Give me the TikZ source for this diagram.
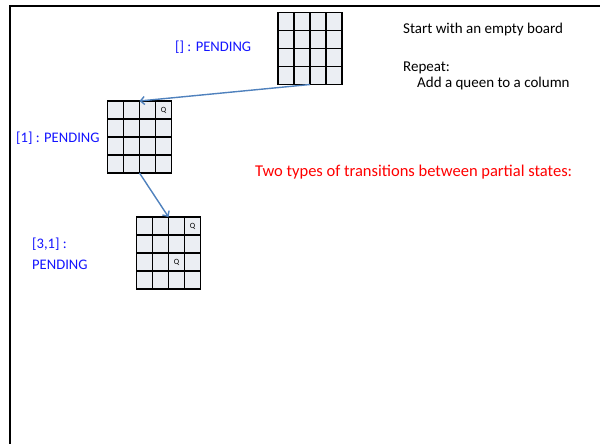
\documentclass[tikz,border=0pt]{standalone}
\usepackage{fontspec}
\setmainfont{Carlito}
\usetikzlibrary{arrows.meta,calc}
\definecolor{cellfill}{RGB}{235,238,243}
\definecolor{arrowblue}{RGB}{79,129,189}
\definecolor{lblblue}{RGB}{20,20,255}
\definecolor{lblred}{RGB}{255,0,0}
\tikzset{
  boardbox/.style={draw=black, line width=1.3pt, fill=cellfill, minimum width=64pt, minimum height=72pt, inner sep=0pt, outer sep=0pt},
  gridline/.style={black, line width=1.3pt},
  queen/.style={font=\fontsize{8}{9}\selectfont, inner sep=0pt},
  bluelbl/.style={text=lblblue, font=\fontsize{14.6}{21}\selectfont, inner sep=0pt, anchor=west, align=left},
  blacklbl/.style={text=black, font=\fontsize{15}{16}\selectfont, inner sep=0pt, anchor=west, align=left},
  redlbl/.style={text=lblred, font=\fontsize{16.5}{18}\selectfont, inner sep=0pt, anchor=west},
  flow/.style={draw=arrowblue, line width=1.4pt, -{Straight Barb[length=4pt,width=8pt]}}
}
\newcommand{\chessboard}[3]{%
  \node[boardbox] (#1) at (#2,#3) {};
  \foreach \i in {1,2,3} {
    \draw[gridline] ($(#1.north west)+(16*\i,0)$) -- ($(#1.south west)+(16*\i,0)$);
    \draw[gridline] ($(#1.north west)+(0,18*\i)$) -- ($(#1.north east)+(0,18*\i)$);
  }
  \draw[line width=1.3pt] (#1.north west) rectangle (#1.south east);
}
\begin{document}
\begin{tikzpicture}[x=1pt,y=-1pt]
\useasboundingbox (0,0) rectangle (600,444);
% frame
\draw[line width=2pt, black] (10,448) -- (10,6) -- (604,6);
% boards
\chessboard{b1}{310}{48.5}
\chessboard{b2}{139.5}{137}
\chessboard{b3}{168.5}{253}
% queens
\node[queen] (q1) at ($(b2.north west)+(56,9)$) {Q};
\node[queen] (q2) at ($(b3.north west)+(56,9)$) {Q};
\node[queen] (q3) at ($(b3.north west)+(40,45)$) {Q};
% arrows
\draw[flow] (b1.south) -- (b2.north);
\draw[flow] (b2.south) -- (b3.north);
% labels
\node[bluelbl] (l1) at (175,47) {[] : PENDING};
\node[bluelbl] (l2) at (16,138) {[1] : PENDING};
\node[bluelbl] (l3) at (32,253.5) {[3,1] :\\PENDING};
\node[blacklbl] (t1) at (403,30) {Start with an empty board};
\node[blacklbl] (t2) at (403,76) {Repeat:\\\hspace{14pt}Add a queen to a column};
\node[redlbl] (t3) at (255,172) {Two types of transitions between partial states:};
\end{tikzpicture}
\end{document}
